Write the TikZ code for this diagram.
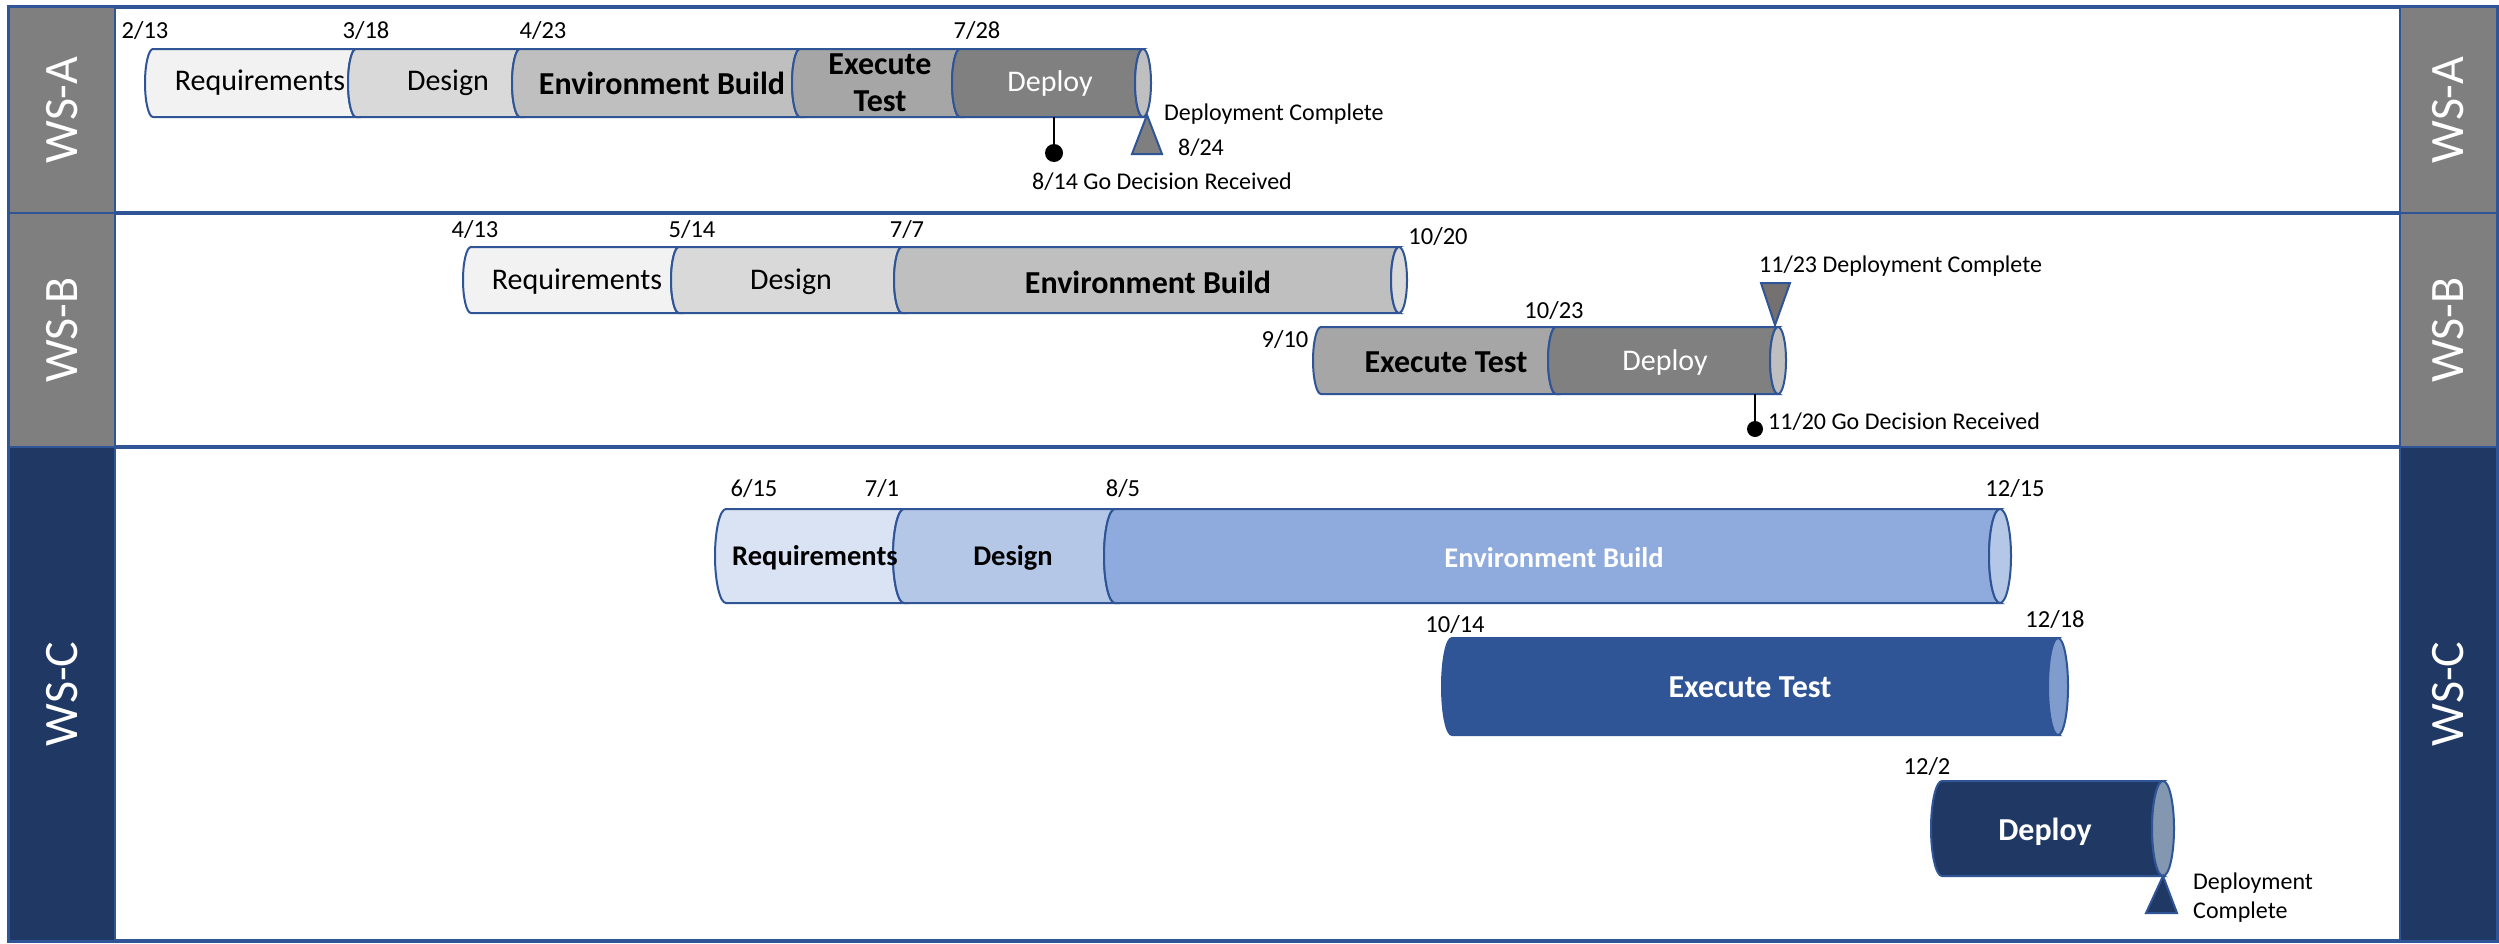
\documentclass[tikz,border=0pt]{standalone}
\usepackage{fontspec}
\setmainfont{Carlito}
\definecolor{bord}{HTML}{2F5597}
\definecolor{navy}{HTML}{203864}
\definecolor{gry}{HTML}{7F7F7F}
\definecolor{gA}{HTML}{F2F2F2}
\definecolor{gB}{HTML}{D9D9D9}
\definecolor{gC}{HTML}{BFBFBF}
\definecolor{gD}{HTML}{A6A6A6}
\definecolor{gE}{HTML}{808080}
\definecolor{bA}{HTML}{DAE3F3}
\definecolor{bB}{HTML}{B4C7E7}
\definecolor{bC}{HTML}{8FAADC}
\definecolor{bD}{HTML}{2F5597}
\definecolor{bDcap}{HTML}{7F9CCC}
\definecolor{navycap}{HTML}{8497B0}
\definecolor{msgray}{HTML}{767171}
% #1 a, #2 b, #3 top, #4 bottom, #5 rx, #6 fill
\newcommand{\cylseg}[6]{%
  \pgfmathsetmacro{\cry}{(#4-#3)/2}%
  \filldraw[fill=#6, draw=bord, line width=2] (#1,-#3) -- (#2,-#3)
    arc[start angle=90, end angle=270, x radius=#5, y radius=\cry] -- (#1,-#4)
    arc[start angle=270, end angle=90, x radius=#5, y radius=\cry] -- cycle;}
% #1 x, #2 top, #3 bottom, #4 rx, #5 fill
\newcommand{\cylcap}[5]{%
  \pgfmathsetmacro{\cry}{(#3-#2)/2}%
  \pgfmathsetmacro{\cyc}{(#3+#2)/2}%
  \filldraw[fill=#5, draw=bord, line width=2] (#1,-\cyc) ellipse[x radius=#4, y radius=\cry];}
\tikzset{
  date/.style={font=\fontsize{24.5}{28}\selectfont, inner sep=0},
  ms/.style={font=\fontsize{24}{29}\selectfont, inner sep=0, align=left},
  bartxt/.style={font=\fontsize{30}{37}\selectfont, inner sep=0, align=center},
  barbold/.style={font=\fontsize{32}{37}\selectfont\bfseries, inner sep=0, align=center},
  barboldc/.style={font=\fontsize{28.5}{34}\selectfont\bfseries, inner sep=0, align=center},
  wslabel/.style={font=\fontsize{48}{56}\selectfont, text=white, rotate=90, inner sep=0},
  rowbox/.style={fill=white, draw=bord, line width=4},
  labbox/.style={draw=bord, line width=2},
  godot/.style={circle, fill=black, inner sep=0, minimum size=18},
  goline/.style={line width=2.5, black},
  tri/.style={draw=bord, line width=2}
}
\begin{document}
\begin{tikzpicture}[x=1pt,y=1pt]
\useasboundingbox (0,0) rectangle (2499,-943);
\fill[white] (0,0) rectangle (2499,-943);
% rows
\draw[rowbox] (9,-7) rectangle (2497,-213);
\draw[rowbox] (9,-213) rectangle (2497,-447);
\draw[rowbox] (9,-447) rectangle (2497,-941);
% label columns
\filldraw[labbox, fill=gry] (9,-7) rectangle (115,-213);
\filldraw[labbox, fill=gry] (9,-213) rectangle (115,-447);
\filldraw[labbox, fill=navy] (9,-447) rectangle (115,-941);
\filldraw[labbox, fill=gry] (2400,-7) rectangle (2497,-213);
\filldraw[labbox, fill=gry] (2400,-213) rectangle (2497,-447);
\filldraw[labbox, fill=navy] (2400,-447) rectangle (2497,-941);
\node[wslabel] (LA) at (62,-110) {WS-A};
\node[wslabel] (LB) at (62,-330) {WS-B};
\node[wslabel] (LC) at (62,-694) {WS-C};
\node[wslabel] (RA) at (2448,-110) {WS-A};
\node[wslabel] (RB) at (2448,-330) {WS-B};
\node[wslabel] (RC) at (2448,-694) {WS-C};

% ===== Row A =====
\cylseg{153}{356}{49}{117}{8}{gA}
\cylseg{356}{520}{49}{117}{8}{gB}
\cylseg{520}{800}{49}{117}{8}{gC}
\cylseg{800}{960}{49}{117}{8}{gD}
\cylseg{960}{1143}{49}{117}{8}{gE}
\cylcap{1143}{49}{117}{8}{gC}
\node[date] (a1) at (145,-31) {2/13};
\node[date] (a2) at (366,-31) {3/18};
\node[date] (a3) at (543,-31) {4/23};
\node[date] (a4) at (977,-31) {7/28};
\node[bartxt] (ta1) at (260,-83) {Requirements};
\node[bartxt] (ta2) at (448,-83) {Design};
\node[barbold] (ta3) at (662,-83) {Environment Build};
\node[barbold] (ta4) at (880,-83) {Execute\\Test};
\node[bartxt, text=white] (ta5) at (1050,-83) {Deploy};
\coordinate (goAtop) at (1054,-117);
\node[godot] (goA) at (1054,-153) {};
\draw[goline] (goAtop) -- (goA);
\node[ms, anchor=center] (goAl) at (1162,-182) {8/14 Go Decision Received};
\filldraw[tri, fill=gry] (1147,-115) -- (1162,-154) -- (1132,-154) -- cycle;
\node[ms, anchor=west] (dcA) at (1164,-114) {Deployment Complete};
\node[ms] (dcAd) at (1201,-148) {8/24};

% ===== Row B =====
\cylseg{471}{679}{247}{313}{8}{gA}
\cylseg{679}{902}{247}{313}{8}{gB}
\cylseg{902}{1399}{247}{313}{8}{gC}
\cylcap{1399}{247}{313}{8}{gB}
\cylseg{1321}{1556}{327}{394}{8}{gD}
\cylseg{1556}{1778}{327}{394}{8}{gE}
\cylcap{1778}{327}{394}{8}{gC}
\node[date] (b1) at (475,-230) {4/13};
\node[date] (b2) at (692,-230) {5/14};
\node[date] (b3) at (907,-230) {7/7};
\node[date] (b4) at (1438,-237) {10/20};
\node[date] (b5) at (1285,-340) {9/10};
\node[date] (b6) at (1554,-311) {10/23};
\node[bartxt] (tb1) at (577,-282) {Requirements};
\node[bartxt] (tb2) at (791,-282) {Design};
\node[barbold] (tb3) at (1148,-282) {Environment Build};
\node[barbold] (tb4) at (1446,-362) {Execute Test};
\node[bartxt, text=white] (tb5) at (1665,-362) {Deploy};
\coordinate (goBtop) at (1755,-394);
\node[godot, minimum size=16] (goB) at (1755,-429) {};
\draw[goline] (goBtop) -- (goB);
\node[ms, anchor=west] (goBl) at (1768,-422) {11/20 Go Decision Received};
\filldraw[tri, fill=msgray] (1761,-283) -- (1790,-283) -- (1775,-325) -- cycle;
\node[ms, anchor=west] (dcB) at (1759,-266) {11/23 Deployment Complete};

% ===== Row C =====
\cylseg{726}{904}{509}{603}{11}{bA}
\cylseg{904}{1115}{509}{603}{11}{bB}
\cylseg{1115}{2000}{509}{603}{11}{bC}
\cylcap{2000}{509}{603}{11}{bB}
\cylseg{1452}{2058}{638}{735}{10}{bD}
\cylcap{2058}{638}{735}{10}{bDcap}
\cylseg{1942}{2163}{781}{876}{11}{navy}
\cylcap{2163}{781}{876}{11}{navycap}
\node[date] (c1) at (754,-489) {6/15};
\node[date] (c2) at (882,-489) {7/1};
\node[date] (c3) at (1123,-489) {8/5};
\node[date] (c4) at (2015,-489) {12/15};
\node[date] (c5) at (1455,-625) {10/14};
\node[date] (c6) at (2055,-620) {12/18};
\node[date] (c7) at (1927,-767) {12/2};
\node[barboldc] (tc1) at (815,-558) {Requirements};
\node[barboldc] (tc2) at (1013,-558) {Design};
\node[barboldc, text=white] (tc3) at (1554,-558) {Environment Build};
\node[barbold, text=white] (tc4) at (1750,-687) {Execute Test};
\node[barbold, text=white] (tc5) at (2045,-832) {Deploy};
\filldraw[tri, fill=navy] (2163,-876) -- (2177,-913) -- (2146,-913) -- cycle;
\node[ms, anchor=north west] (dcC) at (2193,-873) {Deployment\\Complete};
\end{tikzpicture}
\end{document}
